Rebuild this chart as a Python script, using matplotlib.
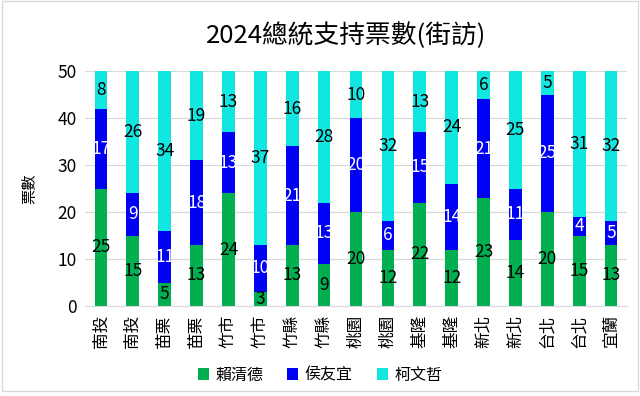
import numpy as np
import matplotlib
matplotlib.use('Agg')
from matplotlib import pyplot as plt
from matplotlib.patches import Rectangle

plt.rcParams['font.family'] = ['Noto Sans CJK TC', 'DejaVu Sans']

regions = ['南投', '南投', '苗栗', '苗栗', '竹市', '竹市', '竹縣', '竹縣', '桃園',
           '桃園', '基隆', '基隆', '新北', '新北', '台北', '台北', '宜蘭']
lai = [25, 15, 5, 13, 24, 3, 13, 9, 20, 12, 22, 12, 23, 14, 20, 15, 13]
hou = [17, 9, 11, 18, 13, 10, 21, 13, 20, 6, 15, 14, 21, 11, 25, 4, 5]
ko = [8, 26, 34, 19, 13, 37, 16, 28, 10, 32, 13, 24, 6, 25, 5, 31, 32]
names = ['賴清德', '侯友宜', '柯文哲']
colors = ['#00B050', '#0000F5', '#12E6E1']
label_colors = ['black', 'white', 'black']

fig = plt.figure(figsize=(6.4, 3.96), dpi=100)
ax = fig.add_axes([85 / 640, 1 - 306 / 396, 542 / 640, 235 / 396])

x = np.arange(len(regions))
bottom = np.zeros(len(regions))
for vals, name, c, lc in zip([lai, hou, ko], names, colors, label_colors):
    vals = np.array(vals)
    bars = ax.bar(x, vals, 0.4, bottom=bottom, color=c, label=name, zorder=2)
    ax.bar_label(bars, labels=[str(v) for v in vals], label_type='center',
                 color=lc, fontsize=12.5, zorder=3)
    bottom += vals

ax.set_xlim(-0.5, len(regions) - 0.5)
ax.set_ylim(0, 50)
ax.set_yticks([0, 10, 20, 30, 40, 50])
ax.yaxis.grid(True, color='#D9D9D9', linewidth=0.8, zorder=0)
ax.set_xticks(x)
ax.set_xticklabels(regions, rotation=90, fontsize=12)
ax.tick_params(axis='y', labelsize=12.5, length=0, pad=6)
ax.tick_params(axis='x', length=0, pad=6)
for s in ['top', 'right', 'left']:
    ax.spines[s].set_visible(False)
ax.spines['bottom'].set_color('#D9D9D9')
ax.set_ylabel('票數', fontsize=11, labelpad=14)

fig.text(346 / 640, 1 - 36 / 396, '2024總統支持票數(街訪)', ha='center', va='center', fontsize=18.5)
fig.legend(loc='center', bbox_to_anchor=(0.5, 1 - 375 / 396), ncol=3, frameon=False,
           fontsize=11.5, handlelength=0.7, handleheight=0.7, columnspacing=1.5,
           handletextpad=0.4)

fig.patches.append(Rectangle((0.003, 0.012), 0.994, 0.985, transform=fig.transFigure,
                             fill=False, edgecolor='#D9D9D9', linewidth=1))

plt.savefig('out.png', dpi=100)
